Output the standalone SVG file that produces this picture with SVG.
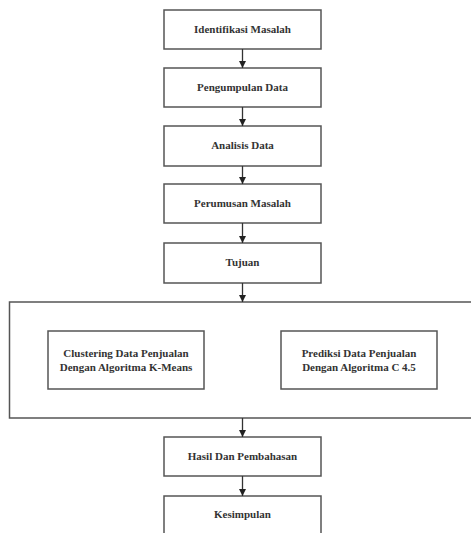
<svg xmlns="http://www.w3.org/2000/svg" width="471" height="533" viewBox="0 0 471 533">
<style>
.box{fill:#fff;stroke:#555;stroke-width:1.5}
.t{font-family:"Liberation Serif","Times New Roman",serif;font-weight:bold;font-size:11px;fill:#333;text-anchor:middle}
.c{stroke:#333;stroke-width:1.3;fill:none}
</style>
<defs>
<marker id="ah" viewBox="0 0 10 10" refX="10" refY="5" markerWidth="7" markerHeight="7" markerUnits="userSpaceOnUse" orient="auto">
<path d="M0,0 L10,5 L0,10 z" fill="#222"/>
</marker>
</defs>
<rect width="471" height="533" fill="#fff"/>
<g id="n1"><rect class="box" x="164" y="10" width="157" height="39"/><text class="t" x="242.5" y="33">Identifikasi Masalah</text></g>
<g id="n2"><rect class="box" x="164" y="68" width="157" height="39"/><text class="t" x="242.5" y="91">Pengumpulan Data</text></g>
<g id="n3"><rect class="box" x="164" y="126" width="157" height="40"/><text class="t" x="242.5" y="149">Analisis Data</text></g>
<g id="n4"><rect class="box" x="164" y="184" width="157" height="39"/><text class="t" x="242.5" y="207">Perumusan Masalah</text></g>
<g id="n5"><rect class="box" x="164" y="243" width="157" height="40"/><text class="t" x="242.5" y="266">Tujuan</text></g>
<g id="n6"><rect class="box" x="9.5" y="302" width="470" height="116"/></g>
<g id="n7"><rect class="box" x="48" y="331" width="156" height="58"/><text class="t" x="126" y="357">Clustering Data Penjualan</text><text class="t" x="126" y="371">Dengan Algoritma K-Means</text></g>
<g id="n8"><rect class="box" x="281" y="331" width="156" height="58"/><text class="t" x="359" y="357">Prediksi Data Penjualan</text><text class="t" x="359" y="371">Dengan Algoritma C 4.5</text></g>
<g id="n9"><rect class="box" x="164" y="437" width="157" height="39"/><text class="t" x="242.5" y="460">Hasil Dan Pembahasan</text></g>
<g id="n10"><rect class="box" x="164" y="496" width="157" height="45"/><text class="t" x="242.5" y="518">Kesimpulan</text></g>
<g id="connectors">
<line class="c" x1="242.5" y1="49" x2="242.5" y2="68" marker-end="url(#ah)"/>
<line class="c" x1="242.5" y1="107" x2="242.5" y2="126" marker-end="url(#ah)"/>
<line class="c" x1="242.5" y1="166" x2="242.5" y2="184" marker-end="url(#ah)"/>
<line class="c" x1="242.5" y1="223" x2="242.5" y2="243" marker-end="url(#ah)"/>
<line class="c" x1="242.5" y1="283" x2="242.5" y2="302" marker-end="url(#ah)"/>
<line class="c" x1="242.5" y1="418" x2="242.5" y2="437" marker-end="url(#ah)"/>
<line class="c" x1="242.5" y1="476" x2="242.5" y2="496" marker-end="url(#ah)"/>
</g>
</svg>
